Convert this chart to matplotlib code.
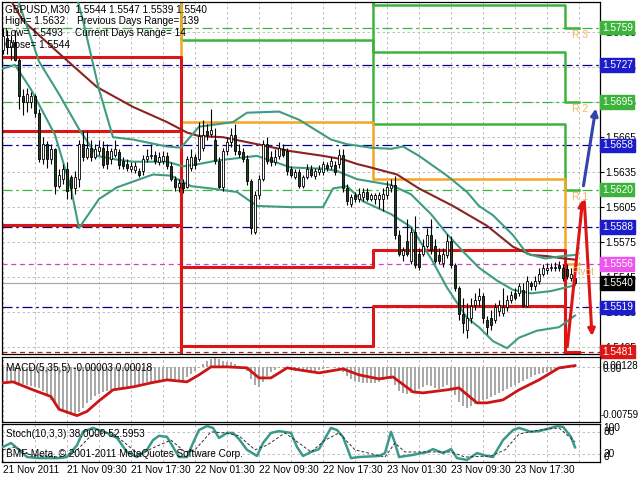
import matplotlib
matplotlib.use('Agg')
import matplotlib.pyplot as plt
import matplotlib.transforms as mtransforms
import numpy as np

plt.rcParams['font.family'] = ['Liberation Sans', 'DejaVu Sans']

# GBPUSD M30 bars, 21 Nov 2011 01:30 ... 24 Nov 01:00
opens = [1.5740, 1.5750, 1.5742, 1.5747, 1.5731, 1.5700, 1.5695, 1.5695, 1.5700, 1.5686,
         1.5646, 1.5659, 1.5646, 1.5655, 1.5623, 1.5629, 1.5638, 1.5631, 1.5621, 1.5629,
         1.5659, 1.5648, 1.5656, 1.5648, 1.5653, 1.5656, 1.5653, 1.5646, 1.5650, 1.5652,
         1.5645, 1.5642, 1.5638, 1.5637, 1.5636, 1.5636, 1.5646, 1.5649, 1.5650, 1.5644,
         1.5645, 1.5649, 1.5640, 1.5629, 1.5622, 1.5626, 1.5622, 1.5639, 1.5648, 1.5646,
         1.5656, 1.5670, 1.5668, 1.5663, 1.5645, 1.5622, 1.5653, 1.5661, 1.5667, 1.5653,
         1.5652, 1.5646, 1.5627, 1.5584, 1.5615, 1.5629, 1.5659, 1.5648, 1.5644, 1.5649,
         1.5655, 1.5653, 1.5638, 1.5631, 1.5635, 1.5623, 1.5631, 1.5638, 1.5632, 1.5635,
         1.5635, 1.5641, 1.5640, 1.5641, 1.5642, 1.5650, 1.5621, 1.5608, 1.5615, 1.5612,
         1.5614, 1.5618, 1.5612, 1.5612, 1.5612, 1.5612, 1.5615, 1.5621, 1.5624, 1.5581,
         1.5564, 1.5576, 1.5559, 1.5584, 1.5565, 1.5565, 1.5572, 1.5581, 1.5572, 1.5564,
         1.5557, 1.5564, 1.5576, 1.5555, 1.5536, 1.5513, 1.5500, 1.5510, 1.5521, 1.5525,
         1.5529, 1.5508, 1.5510, 1.5508, 1.5516, 1.5514, 1.5519, 1.5525, 1.5531, 1.5531,
         1.5534, 1.5520, 1.5540, 1.5537, 1.5542, 1.5548, 1.5551, 1.5553, 1.5553, 1.5555,
         1.5553, 1.5552, 1.5544, 1.5544]
highs = [1.5759, 1.5757, 1.5753, 1.5757, 1.5733, 1.5706, 1.5707, 1.5704, 1.5702, 1.5689,
         1.5665, 1.5662, 1.5659, 1.5656, 1.5638, 1.5642, 1.5644, 1.5633, 1.5636, 1.5663,
         1.5670, 1.5670, 1.5663, 1.5659, 1.5663, 1.5662, 1.5659, 1.5656, 1.5663, 1.5655,
         1.5648, 1.5646, 1.5644, 1.5644, 1.5639, 1.5650, 1.5655, 1.5659, 1.5653, 1.5652,
         1.5653, 1.5652, 1.5644, 1.5632, 1.5629, 1.5629, 1.5649, 1.5655, 1.5651, 1.5678,
         1.5680, 1.5676, 1.5689, 1.5673, 1.5648, 1.5656, 1.5665, 1.5673, 1.5676, 1.5659,
         1.5656, 1.5650, 1.5629, 1.5619, 1.5633, 1.5663, 1.5665, 1.5653, 1.5655, 1.5661,
         1.5659, 1.5656, 1.5640, 1.5638, 1.5638, 1.5633, 1.5642, 1.5641, 1.5639, 1.5641,
         1.5645, 1.5644, 1.5648, 1.5645, 1.5655, 1.5655, 1.5625, 1.5616, 1.5618, 1.5621,
         1.5621, 1.5621, 1.5617, 1.5617, 1.5618, 1.5621, 1.5627, 1.5629, 1.5632, 1.5585,
         1.5571, 1.5595, 1.5588, 1.5597, 1.5570, 1.5578, 1.5587, 1.5595, 1.5578, 1.5570,
         1.5570, 1.5582, 1.5580, 1.5557, 1.5537, 1.5527, 1.5523, 1.5527, 1.5531, 1.5536,
         1.5531, 1.5512, 1.5517, 1.5523, 1.5525, 1.5536, 1.5530, 1.5533, 1.5536, 1.5540,
         1.5540, 1.5546, 1.5542, 1.5546, 1.5553, 1.5556, 1.5557, 1.5557, 1.5558, 1.5559,
         1.5556, 1.5556, 1.5553, 1.5547]
lows = [1.5736, 1.5736, 1.5731, 1.5730, 1.5689, 1.5684, 1.5687, 1.5690, 1.5682, 1.5644,
        1.5642, 1.5639, 1.5642, 1.5616, 1.5621, 1.5625, 1.5612, 1.5612, 1.5616, 1.5622,
        1.5645, 1.5646, 1.5645, 1.5646, 1.5650, 1.5639, 1.5638, 1.5642, 1.5648, 1.5638,
        1.5638, 1.5636, 1.5635, 1.5634, 1.5631, 1.5633, 1.5644, 1.5646, 1.5642, 1.5641,
        1.5642, 1.5638, 1.5627, 1.5619, 1.5618, 1.5617, 1.5621, 1.5636, 1.5638, 1.5645,
        1.5653, 1.5663, 1.5665, 1.5642, 1.5621, 1.5619, 1.5650, 1.5657, 1.5650, 1.5648,
        1.5644, 1.5624, 1.5582, 1.5582, 1.5612, 1.5627, 1.5642, 1.5640, 1.5641, 1.5646,
        1.5648, 1.5633, 1.5631, 1.5629, 1.5621, 1.5621, 1.5629, 1.5631, 1.5629, 1.5633,
        1.5633, 1.5636, 1.5638, 1.5633, 1.5639, 1.5618, 1.5607, 1.5605, 1.5609, 1.5609,
        1.5610, 1.5610, 1.5610, 1.5608, 1.5604, 1.5602, 1.5612, 1.5618, 1.5578, 1.5563,
        1.5559, 1.5563, 1.5556, 1.5553, 1.5551, 1.5563, 1.5570, 1.5565, 1.5557, 1.5556,
        1.5554, 1.5561, 1.5553, 1.5533, 1.5508, 1.5497, 1.5493, 1.5506, 1.5517, 1.5520,
        1.5506, 1.5496, 1.5500, 1.5506, 1.5512, 1.5512, 1.5516, 1.5523, 1.5525, 1.5529,
        1.5519, 1.5519, 1.5534, 1.5534, 1.5539, 1.5546, 1.5548, 1.5550, 1.5550, 1.5550,
        1.5542, 1.5543, 1.5542, 1.5539]
closes = [1.5752, 1.5742, 1.5747, 1.5731, 1.5700, 1.5695, 1.5702, 1.5700, 1.5686, 1.5646,
          1.5659, 1.5646, 1.5655, 1.5623, 1.5633, 1.5638, 1.5619, 1.5621, 1.5631, 1.5659,
          1.5648, 1.5656, 1.5648, 1.5655, 1.5657, 1.5641, 1.5642, 1.5653, 1.5655, 1.5641,
          1.5640, 1.5639, 1.5640, 1.5640, 1.5633, 1.5646, 1.5649, 1.5650, 1.5645, 1.5648,
          1.5649, 1.5640, 1.5629, 1.5622, 1.5626, 1.5621, 1.5646, 1.5648, 1.5641, 1.5666,
          1.5667, 1.5667, 1.5671, 1.5645, 1.5622, 1.5653, 1.5661, 1.5667, 1.5653, 1.5651,
          1.5646, 1.5627, 1.5587, 1.5615, 1.5629, 1.5659, 1.5645, 1.5644, 1.5648, 1.5656,
          1.5650, 1.5636, 1.5633, 1.5635, 1.5623, 1.5631, 1.5638, 1.5633, 1.5636, 1.5638,
          1.5642, 1.5639, 1.5645, 1.5635, 1.5650, 1.5621, 1.5610, 1.5614, 1.5612, 1.5616,
          1.5618, 1.5612, 1.5615, 1.5615, 1.5615, 1.5616, 1.5622, 1.5624, 1.5581, 1.5565,
          1.5568, 1.5565, 1.5584, 1.5555, 1.5554, 1.5572, 1.5581, 1.5568, 1.5559, 1.5559,
          1.5565, 1.5576, 1.5555, 1.5536, 1.5513, 1.5506, 1.5510, 1.5520, 1.5525, 1.5529,
          1.5510, 1.5502, 1.5504, 1.5519, 1.5521, 1.5519, 1.5525, 1.5530, 1.5527, 1.5537,
          1.5520, 1.5542, 1.5537, 1.5542, 1.5548, 1.5553, 1.5553, 1.5554, 1.5554, 1.5553,
          1.5544, 1.5546, 1.5548, 1.5540]

# Bollinger bands and slow MA (bar index, price)
bb_upper_x = [18, 20, 24, 27.5, 32.5, 41, 44.5, 49, 57.5, 61, 69, 74, 82, 86, 92, 97, 100, 104,
              111, 116, 119, 122.5, 127.5, 131, 135.5, 140, 143]
bb_upper_y = [1.5791, 1.5765, 1.5706, 1.5665, 1.5663, 1.5657, 1.5656, 1.5674, 1.5678, 1.5686,
              1.5687, 1.5680, 1.5663, 1.5659, 1.5656, 1.5655, 1.5657, 1.5649, 1.5632, 1.5618,
              1.5606, 1.5598, 1.5581, 1.5565, 1.5561, 1.5563, 1.5564]
bb_mid_x = [2, 6, 9, 14, 19, 23.5, 28, 32.5, 41, 45, 49, 53.5, 63.5, 72, 80, 83.5, 88.5, 97,
            102, 107, 111, 115, 119, 123.5, 127.5, 132, 137, 143]
bb_mid_y = [1.5800, 1.5760, 1.5730, 1.5702, 1.5672, 1.5649, 1.5646, 1.5644, 1.5644, 1.5640,
            1.5642, 1.5645, 1.5649, 1.5639, 1.5638, 1.5636, 1.5629, 1.5624, 1.5616, 1.5599,
            1.5582, 1.5567, 1.5553, 1.5542, 1.5534, 1.5531, 1.5533, 1.5538]
bb_low_x = [0, 3, 7, 13, 17, 19, 21, 24, 28.5, 37.5, 42, 47, 52, 58.5, 63.5, 72, 80, 82.5,
            86, 90, 97, 102, 107, 111, 116, 119, 122.5, 126, 129, 133.5, 139, 143]
bb_low_y = [1.5724, 1.5727, 1.5706, 1.5667, 1.5621, 1.5587, 1.5597, 1.5612, 1.5622, 1.5633,
            1.5632, 1.5623, 1.5621, 1.5618, 1.5606, 1.5605, 1.5605, 1.5621, 1.5623, 1.5610,
            1.5599, 1.5588, 1.5561, 1.5536, 1.5510, 1.5502, 1.5490, 1.5484, 1.5493, 1.5499,
            1.5502, 1.5512]
ma_x = [2, 5, 14, 23.5, 32.5, 41, 46, 49, 55, 63.5, 72, 80, 85, 88.5, 92, 98.5, 104, 112.5,
        121, 127.5, 132, 136, 140, 143]
ma_y = [1.5782, 1.5765, 1.5737, 1.5708, 1.5691, 1.5678, 1.5669, 1.5666, 1.5665, 1.5659,
        1.5653, 1.5649, 1.5646, 1.5642, 1.5639, 1.5633, 1.5621, 1.5606, 1.5589, 1.5571,
        1.5564, 1.5563, 1.5561, 1.5560]

# daily pivot levels (21, 22, 23, 24 Nov); None = off chart
day_edges = [-0.25, 44.5, 92.5, 140.5, 144.0]
r3_levels = [None, None, 1.5778, 1.5759]
r2_levels = [None, None, 1.5738, 1.5695]
r1_levels = [None, 1.5748, 1.5676, 1.5620]
pivot_levels = [None, 1.5678, 1.5629, 1.5556]
s1_levels = [1.5734, 1.5554, 1.5568, 1.5481]
s2_levels = [1.5670, 1.5486, 1.5520, None]
s3_levels = [1.5590, None, None, None]

# current day levels shown across the chart
r_lines = [1.5759, 1.5695, 1.5620]
mid_lines = [1.5727, 1.5658, 1.5588, 1.5519]
pivot_now = 1.5556
s1_now = 1.5481
bid = 1.5540
price_ticks = [1.5755, 1.5725, 1.5695, 1.5665, 1.5635, 1.5605, 1.5575, 1.5545, 1.5515, 1.5485]

# MACD(5,35,5) main (histogram) per bar and signal line
macd_main = [-0.00196, -0.00196, -0.0021, -0.0021, -0.00224, -0.00238, -0.00252, -0.00266, -0.0028, -0.00294,
             -0.00336, -0.00392, -0.00462, -0.00532, -0.00602, -0.00644, -0.00672, -0.00686, -0.00672, -0.00644,
             -0.00588, -0.00518, -0.00462, -0.00406, -0.00378, -0.0035, -0.00336, -0.00322, -0.00308, -0.00294,
             -0.00294, -0.0028, -0.00266, -0.00252, -0.00238, -0.00224, -0.0021, -0.0021, -0.00196, -0.00196,
             -0.00182, -0.00182, -0.00196, -0.0021, -0.0021, -0.00196, -0.0014, -0.00098, -0.00056, -0.00014,
             0.00042, 0.00084, 0.00112, 0.00126, 0.00112, 0.00084, 0.0007, 0.0007, 0.00042, 0.00014,
             -0.00014, -0.00056, -0.00168, -0.00252, -0.0028, -0.0021, -0.00126, -0.0007, -0.00042, -0.00014,
             -0.00014, -0.00028, -0.00042, -0.00056, -0.00056, -0.0007, -0.0007, -0.00056, -0.00056, -0.00042,
             -0.00028, -0.00014, 0.0, -0.00014, -0.00028, -0.0007, -0.00126, -0.00168, -0.00196, -0.0021,
             -0.00224, -0.00224, -0.00224, -0.00224, -0.0021, -0.00182, -0.00168, -0.00168, -0.00252, -0.00336,
             -0.00364, -0.00378, -0.00364, -0.00336, -0.00308, -0.0028, -0.00252, -0.00266, -0.00294, -0.00308,
             -0.0028, -0.00252, -0.00308, -0.00392, -0.0049, -0.0056, -0.00588, -0.0056, -0.00532, -0.0049,
             -0.00462, -0.00448, -0.0042, -0.00392, -0.00364, -0.00336, -0.00308, -0.0028, -0.00252, -0.00224,
             -0.00196, -0.00168, -0.0014, -0.00112, -0.00098, -0.00084, -0.0007, -0.00056, -0.00042, -0.00028,
             -0.00028, -0.00014, 0.0, -0.00003]
macd_sig_x = [0, 2.5, 7.5, 12, 14, 18.5, 21, 24, 27.5, 32.5, 37, 41, 46, 49, 52, 56, 61, 64, 67, 71,
              74, 79, 85, 89, 94, 97.5, 102.5, 105, 111, 114, 118.5, 121, 125, 129, 134, 139, 143]
macd_sig_y = [-0.00226, -0.00212, -0.00325, -0.0042, -0.0060, -0.0069, -0.0063, -0.0048, -0.00325,
              -0.00283, -0.00226, -0.00184, -0.00212, -0.00113, 0.0, 0.0, -0.00014, -0.00156,
              -0.00156, -0.00014, -0.00042, -0.00085, -0.00028, -0.00113, -0.0017, -0.00142,
              -0.00354, -0.00368, -0.00325, -0.00297, -0.00509, -0.00509, -0.00467, -0.00325,
              -0.00184, -0.00014, 0.00018]

# Stochastic(10,3,3)
stoch_x = [0, 2, 4, 6, 9, 14, 16, 18.5, 20, 22.5, 26, 28.5, 31, 33.5, 36, 37.5, 39, 41, 42.5, 44,
           46, 47.5, 49, 51, 52.5, 54, 56, 57.5, 59, 61, 63.5, 65, 67, 69, 72, 73.5, 75, 77, 79,
           82, 83.5, 85, 87, 89, 94, 95.5, 97, 98, 99, 102.5, 106, 107.5, 110, 112, 113.5, 116,
           118.5, 121, 122.5, 125, 127.5, 129, 132, 134, 137, 138.5, 140, 142, 143]
stoch_main = [39, 50, 31, 11, 8, 8, 11, 44, 81, 92, 78, 64, 25, 11, 31, 58, 70, 67, 39, 11,
              11, 50, 86, 97, 92, 64, 78, 78, 61, 31, 14, 50, 78, 83, 78, 39, 14, 25, 33,
              92, 86, 67, 8, 11, 14, 22, 81, 50, 11, 17, 25, 33, 22, 33, 8, 3,
              22, 14, 11, 58, 86, 92, 81, 83, 92, 97, 95, 67, 38]
stoch_sig_x = [0, 3, 7, 14, 18, 22, 27, 30.5, 34, 38, 42, 45.5, 48, 52, 55.5, 59, 63, 66, 70.5,
               74, 77, 80.5, 84, 88, 95.5, 98, 100.5, 107, 112, 115.5, 122, 125.5, 129, 134, 139, 143]
stoch_sig = [31, 39, 17, 11, 25, 70, 81, 50, 17, 39, 58, 25, 31, 81, 78, 70, 31, 44, 78,
             50, 25, 58, 78, 31, 11, 50, 25, 25, 25, 11, 14, 31, 75, 86, 92, 53]

tick_bars = [0, 16, 32, 48, 64, 80, 96, 112, 128]
tick_labels = ['21 Nov 2011', '21 Nov 09:30', '21 Nov 17:30', '22 Nov 01:30', '22 Nov 09:30',
               '22 Nov 17:30', '23 Nov 01:30', '23 Nov 09:30', '23 Nov 17:30']

# projection arrows (bar, price)
blue_arrow = [(145.0, 1.5621), (148.3, 1.5692)]
red_up = [(141.0, 1.5483), (145.0, 1.5614)]
red_down = [(145.3, 1.5612), (147.3, 1.5492)]

GRID = '#b4b4b4'
TEAL = '#3f9c80'
GREEN = '#3cb43c'
BLUE = '#1c1ccc'
RED = '#dd1515'
ORANGE = '#f5a623'

fig = plt.figure(figsize=(6.4, 4.8), dpi=100)
fig.patch.set_facecolor('white')
ax = fig.add_axes([2 / 640, 1 - 354 / 480, 598 / 640, 352 / 480])
axm = fig.add_axes([2 / 640, 1 - 422 / 480, 598 / 640, 65 / 480])
axs = fig.add_axes([2 / 640, 1 - 462 / 480, 598 / 640, 38 / 480])

for a in (ax, axm, axs):
    a.set_xlim(-0.25, 149.25)
    a.set_xticks([])
    for sp in a.spines.values():
        sp.set_color('black')
        sp.set_linewidth(0.9)
    for b in range(0, 150, 8):
        a.axvline(b, color=GRID, lw=0.6, ls=(0, (3, 3)), zorder=0.5)

# ---- main price window
ax.set_ylim(1.5479, 1.5781)
for p in price_ticks:
    ax.axhline(p, color=GRID, lw=0.6, ls=(0, (3, 3)), zorder=0.5)
ax.yaxis.tick_right()
ax.set_yticks(price_ticks)
ax.set_yticklabels(['%.4f' % p for p in price_ticks])
ax.tick_params(axis='y', length=3, width=0.8, pad=1, labelsize=7.3)

dashdot = (0, (8, 3, 2, 3))
for p in r_lines:
    ax.axhline(p, color=GREEN, lw=0.9, ls=dashdot, zorder=1)
for p in mid_lines:
    ax.axhline(p, color='#000080', lw=0.9, ls=dashdot, zorder=1)
ax.axhline(pivot_now, color='#cc44cc', lw=0.9, ls=(0, (4, 3)), zorder=1)
ax.axhline(s1_now, color='#aa2222', lw=0.9, ls=(0, (4, 3)), zorder=1)
ax.axhline(bid, color='#a8a8a8', lw=0.9, zorder=1)


def step_line(levels, off):
    xs, ys = [], []
    for k, v in enumerate(levels):
        v = off if v is None else v
        xs += [day_edges[k], day_edges[k + 1]]
        ys += [v, v]
    return xs, ys


for levels, col in ((r3_levels, GREEN), (r2_levels, GREEN), (r1_levels, GREEN), (pivot_levels, ORANGE)):
    xs, ys = step_line(levels, 1.60)
    ax.plot(xs, ys, color=col, lw=1.8, zorder=2)
for levels in (s1_levels, s2_levels, s3_levels):
    xs, ys = step_line(levels, 1.53)
    ax.plot(xs, ys, color=RED, lw=2.2, zorder=2)

ax.plot(ma_x, ma_y, color='#8b2323', lw=1.5, zorder=3)
ax.plot(bb_upper_x, bb_upper_y, color=TEAL, lw=1.5, zorder=3)
ax.plot(bb_mid_x, bb_mid_y, color=TEAL, lw=1.5, zorder=3)
ax.plot(bb_low_x, bb_low_y, color=TEAL, lw=1.5, zorder=3)

idx = np.arange(len(closes))
o = np.array(opens)
c = np.array(closes)
up = c >= o
body_lo = np.minimum(o, c)
body_h = np.maximum(np.abs(c - o), 0.00002)
ax.vlines(idx, lows, highs, color='black', lw=0.8, zorder=4)
ax.bar(idx, body_h, bottom=body_lo, width=0.62, color=np.where(up, 'white', '#1f3f1f'),
       edgecolor='black', linewidth=0.6, zorder=5)

for (x0, y0), (x1, y1), col in ((blue_arrow[0], blue_arrow[1], '#3344aa'),
                                (red_up[0], red_up[1], RED),
                                (red_down[0], red_down[1], RED)):
    ax.annotate('', xy=(x1, y1), xytext=(x0, y0),
                arrowprops=dict(arrowstyle='-|>', color=col, lw=2.2, mutation_scale=10), zorder=6)

lab_col = '#f0b860'
ax.text(142.3, r_lines[0] - 0.0006, 'R 3', color=lab_col, fontsize=7.5, va='center', zorder=6)
ax.text(142.3, r_lines[1] - 0.0006, 'R 2', color=lab_col, fontsize=7.5, va='center', zorder=6)
ax.text(142.3, r_lines[2] - 0.0006, 'R 1', color=lab_col, fontsize=7.5, va='center', zorder=6)
ax.text(142.0, pivot_now - 0.0007, 'Pivot', color=lab_col, fontsize=7.5, va='center', zorder=6)

tr = mtransforms.blended_transform_factory(ax.transAxes, ax.transData)
boxes = [(1.5759, GREEN), (1.5727, BLUE), (1.5695, GREEN), (1.5658, BLUE), (1.5620, GREEN),
         (1.5588, BLUE), (1.5556, '#ee55ee'), (1.5540, 'black'), (1.5519, BLUE), (1.5481, RED)]
for p, col in boxes:
    ax.text(1.003, p, '%.4f' % p, transform=tr, color='white', fontsize=7.3, va='center', ha='left',
            bbox=dict(boxstyle='square,pad=0.18', fc=col, ec=col), clip_on=False, zorder=8)

fig.text(5 / 640, 1 - 9 / 480, 'GBPUSD,M30  1.5544 1.5547 1.5539 1.5540', fontsize=7.2, va='center')
fig.text(5 / 640, 1 - 21 / 480, 'High= 1.5632', fontsize=7.2, va='center')
fig.text(77 / 640, 1 - 21 / 480, 'Previous Days Range= 139', fontsize=7.2, va='center')
fig.text(5 / 640, 1 - 33 / 480, 'Low= 1.5493', fontsize=7.2, va='center')
fig.text(75 / 640, 1 - 33 / 480, 'Current Days Range= 14', fontsize=7.2, va='center')
fig.text(5 / 640, 1 - 45 / 480, 'Close= 1.5544', fontsize=7.2, va='center')

# ---- MACD window
axm.set_ylim(-0.0078, 0.0014)
axm.set_yticks([])
axm.axhline(0, color=GRID, lw=0.6, ls=(0, (3, 3)), zorder=0.5)
axm.bar(idx, macd_main, width=0.35, color='#a8a8a8', zorder=2)
axm.plot(macd_sig_x, macd_sig_y, color='#cc1515', lw=2.0, zorder=3)
axm.text(0.006, 0.83, 'MACD(5,35,5) -0.00003 0.00018', transform=axm.transAxes, fontsize=7.2, va='center')
axm.text(1.004, 0.86, '0.00128', transform=axm.transAxes, fontsize=7.1, va='center')
axm.text(1.004, 0.82, '0.00', transform=axm.transAxes, fontsize=7.1, va='center')
axm.text(1.001, 0.11, '-0.00759', transform=axm.transAxes, fontsize=6.9, va='center')

# ---- Stochastic window
axs.set_ylim(-2.8, 102.8)
axs.set_yticks([])
axs.axhline(80, color=GRID, lw=0.6, ls=(0, (3, 3)), zorder=0.5)
axs.axhline(20, color=GRID, lw=0.6, ls=(0, (3, 3)), zorder=0.5)
axs.plot(stoch_x, stoch_main, color='#3a9a8a', lw=1.8, zorder=3)
axs.plot(stoch_sig_x, stoch_sig, color='#303030', lw=0.7, ls=(0, (3, 2)), zorder=3)
axs.text(0.006, 0.74, 'Stoch(10,3,3) 38.0000 52.5953', transform=axs.transAxes, fontsize=7.2, va='center')
axs.text(0.006, 0.2, 'BMF-Meta, \u00a9 2001-2011 MetaQuotes Software Corp.', transform=axs.transAxes,
         fontsize=7.2, va='center')
for yv, s in ((0.9, '100'), (0.8, '80'), (0.22, '20'), (0.12, '0')):
    axs.text(1.006, yv, s, transform=axs.transAxes, fontsize=7.3, va='center')

trx = mtransforms.blended_transform_factory(axs.transData, axs.transAxes)
for b, s in zip(tick_bars, tick_labels):
    axs.text(b, -0.22, s, transform=trx, fontsize=7.2, va='center', ha='left', clip_on=False)

fig.savefig('out.png', dpi=100)
